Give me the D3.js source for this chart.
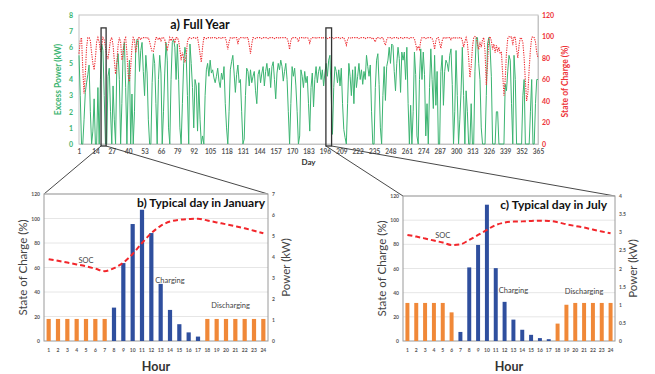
<!DOCTYPE html>
<html>
<head>
<meta charset="utf-8">
<script src="https://cdn.jsdelivr.net/npm/d3@7"></script>
<style>
  body { margin: 0; background: #fff; }
  svg { display: block; }
  text { font-family: Lato, "Liberation Sans", sans-serif; }
</style>
</head>
<body>
<div id="chart"></div>
<script>
// ---- data ----
// a) full year, one value per day (rows of 13 days, starting at day 1)
const excessPower = [
  5.5, 3.0, 0, 0, 1.5, 3.2, 3.8, 4.3, 4.9, 2.0, 0, 0.8, 2.8,
  0, 0, 3.5, 0, 4.0, 6.2, 5.8, 3.0, 0, 0, 4.2, 4.7, 2.0,
  0, 3.6, 1.5, 0, 5.0, 5.6, 4.0, 0, 2.5, 5.8, 6.3, 3.5, 0,
  3.6, 5.2, 0, 3.1, 0, 2.0, 5.9, 6.5, 6.4, 4.5, 5.8, 6.3, 4.5,
  3.0, 5.5, 4.4, 1.5, 0, 0, 3.8, 5.6, 5.0, 2.5, 0, 4.0, 5.5,
  4.4, 0, 2.0, 4.4, 6.3, 5.2, 1.0, 0, 4.0, 6.3, 6.5, 6.0, 4.0,
  6.2, 4.0, 1.0, 0, 2.5, 5.0, 6.0, 5.5, 3.0, 0, 6.2, 5.0, 3.5,
  1.0, 4.0, 3.6, 0.8, 3.8, 1.5, 0, 0.5, 0, 3.0, 4.6, 5.0, 4.2,
  5.2, 4.4, 4.6, 4.1, 3.8, 4.2, 4.7, 3.9, 3.5, 4.4, 4.0, 4.8, 2.5,
  1.0, 0, 2.0, 4.6, 5.1, 5.5, 4.4, 3.2, 4.3, 4.9, 3.8, 4.0, 2.0,
  0, 0.3, 3.0, 4.7, 4.5, 3.6, 4.6, 3.8, 4.2, 4.5, 3.3, 2.5, 4.3,
  4.6, 3.8, 4.4, 4.8, 3.6, 4.5, 5.0, 4.2, 4.7, 3.5, 4.8, 5.1, 4.0,
  2.8, 4.4, 5.0, 4.6, 5.2, 4.8, 3.9, 4.5, 5.0, 4.0, 2.0, 0, 2.5,
  4.8, 4.2, 4.7, 3.6, 2.0, 0, 0.5, 4.6, 4.2, 3.5, 4.5, 3.8, 4.2,
  2.5, 0.8, 3.5, 4.4, 2.3, 4.0, 4.8, 3.8, 4.5, 4.8, 4.0, 4.6, 3.6,
  4.4, 5.0, 4.2, 5.2, 5.5, 3.0, 0.6, 3.5, 4.8, 4.5, 3.8, 4.6, 3.6,
  4.7, 2.5, 0.9, 0.4, 0, 2.5, 5.0, 4.2, 3.0, 4.6, 2.5, 4.8, 3.5,
  4.2, 5.0, 4.0, 4.6, 3.7, 4.5, 4.0, 5.5, 4.8, 4.2, 4.9, 2.0, 0,
  0, 3.5, 5.2, 5.6, 3.7, 1.0, 0, 3.0, 4.8, 2.7, 4.8, 5.2, 6.0,
  5.0, 6.2, 6.1, 4.5, 3.3, 5.0, 6.0, 5.3, 3.2, 5.7, 5.2, 5.7, 4.0,
  6.0, 2.5, 0, 2.4, 0, 2.0, 5.7, 4.3, 0.5, 0, 4.0, 5.9, 4.0,
  5.7, 4.3, 0.5, 2.5, 0, 3.5, 5.9, 4.0, 2.2, 5.5, 2.4, 4.5, 0,
  0, 4.5, 5.5, 2.4, 4.5, 5.2, 5.0, 4.5, 5.5, 5.9, 3.7, 0, 2.0,
  5.8, 3.0, 0, 1.5, 3.3, 6.0, 3.0, 0, 3.3, 2.0, 0, 0, 2.5,
  0, 0, 4.5, 6.6, 6.6, 5.0, 4.0, 1.0, 0, 0, 0, 3.0, 6.2,
  6.6, 6.0, 4.2, 0, 0, 0, 2.0, 2.0, 0, 0, 0, 0, 0,
  3.7, 3.3, 4.5, 5.5, 5.2, 2.5, 0, 5.5, 4.0, 0, 0, 0, 0,
  0, 3.0, 4.0, 0, 0, 0, 0, 2.0, 4.0, 0, 0, 2.5, 4.0,
  4.0
];
const socYear = [
  84, 96, 99, 70, 47, 65, 90, 99, 99, 96, 85, 75, 69,
  80, 95, 99, 95, 86, 92, 99, 97, 90, 82, 79, 88, 97,
  99, 92, 78, 65, 75, 92, 99, 95, 78, 84, 97, 99, 85,
  64, 58, 72, 90, 99, 97, 85, 92, 99, 99, 97, 99, 99,
  99, 99, 98, 99, 95, 90, 86, 86, 92, 99, 99, 97, 99,
  96, 99, 99, 97, 92, 88, 93, 99, 96, 99, 98, 94, 99,
  99, 96, 88, 78, 85, 80, 76, 82, 95, 99, 99, 98, 99,
  99, 99, 98, 99, 92, 84, 76, 90, 99, 99, 98, 99, 99,
  99, 98, 99, 99, 99, 98, 99, 99, 99, 98, 99, 99, 99,
  95, 88, 95, 99, 99, 98, 99, 99, 99, 93, 98, 99, 99,
  99, 98, 99, 99, 99, 92, 84, 93, 99, 99, 98, 99, 99,
  99, 99, 98, 99, 99, 99, 99, 98, 99, 99, 99, 99, 98,
  99, 99, 99, 98, 99, 99, 99, 99, 99, 98, 95, 88, 96,
  99, 99, 99, 99, 98, 95, 99, 99, 99, 99, 98, 99, 99,
  98, 94, 98, 99, 99, 99, 98, 99, 99, 99, 99, 98, 99,
  99, 99, 98, 99, 99, 99, 99, 98, 99, 99, 99, 99, 98,
  99, 99, 99, 96, 92, 97, 99, 99, 98, 99, 99, 99, 99,
  99, 98, 99, 99, 99, 99, 98, 99, 99, 99, 99, 98, 99,
  97, 95, 99, 99, 99, 98, 99, 99, 95, 92, 97, 99, 99,
  99, 98, 99, 99, 99, 99, 98, 99, 99, 99, 98, 99, 99,
  99, 99, 98, 99, 99, 99, 98, 93, 88, 91, 88, 96, 99,
  99, 99, 98, 99, 99, 99, 99, 98, 95, 88, 96, 99, 99,
  94, 89, 96, 99, 99, 98, 99, 99, 99, 97, 99, 99, 98,
  99, 99, 98, 99, 99, 96, 90, 95, 99, 94, 80, 62, 72,
  90, 99, 100, 99, 93, 88, 95, 90, 97, 99, 86, 55, 75,
  98, 100, 96, 88, 93, 85, 92, 86, 90, 84, 85, 65, 45,
  60, 85, 98, 100, 99, 100, 92, 100, 99, 88, 80, 92, 99,
  98, 94, 80, 58, 40, 48, 70, 88, 99, 100, 99, 95, 85,
  80
];
const days = d3.range(1, 366);
const dayTicks = [1, 14, 27, 40, 53, 66, 79, 92, 105, 118, 131, 144, 157, 170, 183, 196,
  209, 222, 235, 248, 261, 274, 287, 300, 313, 326, 339, 352, 365];
const powerTicks = [0, 1, 2, 3, 4, 5, 6, 7, 8];
const socTicks = [0, 20, 40, 60, 80, 100, 120];
// zoomed windows (days) shown below
const windowJan = [18.5, 22.5];
const windowJul = [196.8, 201.3];

// b) / c) typical days
const hours = d3.range(1, 25);
const janPower = [1.05, 1.05, 1.05, 1.05, 1.05, 1.05, 1.05, 1.59, 3.71, 5.57, 6.25, 5.14,
  2.72, 1.48, 0.80, 0.41, 0.21, 1.05, 1.05, 1.05, 1.05, 1.05, 1.05, 1.05];
const janMode = ["d", "d", "d", "d", "d", "d", "d", "c", "c", "c", "c", "c",
  "c", "c", "c", "c", "c", "d", "d", "d", "d", "d", "d", "d"];
const janSoc = [66.8, 65.5, 64, 62.5, 61, 59, 57, 59.5, 64, 71, 80, 88,
  94, 97.5, 99, 99.5, 99.8, 98.4, 96.8, 95.3, 93.7, 92, 90, 88];
const julPower = [1.05, 1.05, 1.05, 1.05, 1.05, 0.79, 0.25, 2.03, 2.65, 3.76, 2.01, 1.08,
  0.59, 0.31, 0.17, 0.08, 0.05, 0.48, 1.0, 1.05, 1.05, 1.05, 1.05, 1.05];
const julMode = ["d", "d", "d", "d", "d", "d", "c", "c", "c", "c", "c", "c",
  "c", "c", "c", "c", "c", "d", "d", "d", "d", "d", "d", "d"];
const julSoc = [87.8, 86.4, 84.8, 83.1, 81.5, 79.5, 80, 83.7, 87.8, 92, 96, 98,
  98.8, 99, 99.4, 99.6, 99.4, 98.3, 96.6, 95.2, 93.9, 92.2, 90.6, 89.2];
const janPowerTicks = [0, 1, 2, 3, 4, 5, 6, 7];
const julPowerTicks = [0, 0.5, 1, 1.5, 2, 2.5, 3, 3.5, 4];

// ---- drawing ----
const W = 655, H = 374;
const green = "#3bb471", red = "#ee3338", dark = "#333";

const svg = d3.select("#chart").append("svg")
  .attr("width", W)
  .attr("height", H);

// top chart
const a = { left: 79, right: 538, top: 15, bottom: 144 };
const x = d3.scaleLinear().domain([1, 365]).range([a.left, a.right]);
const yP = d3.scaleLinear().domain([0, 8]).range([a.bottom, a.top]);
const yS = d3.scaleLinear().domain([0, 120]).range([a.bottom, a.top]);

svg.append("rect")
  .attr("x", a.left).attr("y", a.top)
  .attr("width", a.right - a.left).attr("height", a.bottom - a.top)
  .attr("fill", "none").attr("stroke", "#c4c4c4");

// left axis (excess power)
const gl = svg.append("g")
  .attr("transform", `translate(${a.left},0)`)
  .call(d3.axisLeft(yP).tickValues(powerTicks).tickSize(0).tickPadding(6));
gl.select(".domain").remove();
gl.selectAll("text").attr("fill", green).attr("font-size", 7).attr("font-weight", "bold");

// right axis (SOC)
const gr = svg.append("g")
  .attr("transform", `translate(${a.right},0)`)
  .call(d3.axisRight(yS).tickValues(socTicks).tickSize(0).tickPadding(4));
gr.select(".domain").attr("stroke", "#c4c4c4");
gr.selectAll("text").attr("fill", red).attr("font-size", 7).attr("font-weight", "bold");

// day axis
const gx = svg.append("g")
  .attr("transform", `translate(0,${a.bottom})`)
  .call(d3.axisBottom(x).tickValues(dayTicks).tickFormat(d3.format("d")).tickSize(0).tickPadding(5));
gx.select(".domain").attr("stroke", "#c4c4c4");
gx.selectAll("text").attr("fill", "#555").attr("font-size", 6.5).attr("font-weight", "bold");

svg.append("text")
  .attr("x", (a.left + a.right) / 2).attr("y", 165)
  .attr("text-anchor", "middle")
  .attr("font-size", 8).attr("font-weight", "bold").attr("fill", dark)
  .text("Day");

svg.append("text")
  .attr("transform", `translate(61,${(a.top + a.bottom) / 2}) rotate(-90)`)
  .attr("text-anchor", "middle")
  .attr("font-size", 8.5).attr("font-weight", "bold").attr("fill", green)
  .text("Excess Power (kW)");

svg.append("text")
  .attr("transform", `translate(568,${(a.top + a.bottom) / 2 + 2}) rotate(-90)`)
  .attr("text-anchor", "middle")
  .attr("font-size", 8.5).attr("font-weight", "bold").attr("fill", red)
  .text("State of Charge (%)");

svg.append("text")
  .attr("x", 200).attr("y", 29)
  .attr("text-anchor", "middle")
  .attr("font-size", 12.5).attr("font-weight", "bold").attr("fill", "#111")
  .text("a) Full Year");

// green excess power line
svg.append("path")
  .datum(excessPower)
  .attr("fill", "none")
  .attr("stroke", green)
  .attr("stroke-width", 1)
  .attr("stroke-linejoin", "round")
  .attr("d", d3.line().x((d, i) => x(days[i])).y(d => yP(d)));

// red dotted SOC line
svg.append("path")
  .datum(socYear)
  .attr("fill", "none")
  .attr("stroke", red)
  .attr("stroke-width", 1.1)
  .attr("stroke-dasharray", "1.3,1.1")
  .attr("d", d3.line().x((d, i) => x(days[i])).y(d => yS(d)));

// ---- typical day panels ----
const panels = [
  { left: 44, right: 268, top: 194, bottom: 341, pMax: 7, pTicks: janPowerTicks,
    power: janPower, mode: janMode, soc: janSoc, win: windowJan,
    title: "b) Typical day in January", titleX: 265,
    notes: [["SOC", 5, 64], ["Charging", 14, 47], ["Discharging", 20.5, 27]] },
  { left: 403, right: 615, top: 196, bottom: 341, pMax: 4, pTicks: julPowerTicks,
    power: julPower, mode: julMode, soc: julSoc, win: windowJul,
    title: "c) Typical day in July", titleX: 607,
    notes: [["SOC", 5, 85], ["Charging", 13, 40], ["Discharging", 21, 39]] }
];

panels.forEach(p => {
  const xb = d3.scaleBand().domain(hours).range([p.left, p.right])
    .paddingInner(0.55).paddingOuter(0.275);
  const ys = d3.scaleLinear().domain([0, 120]).range([p.bottom, p.top]);
  const yp = d3.scaleLinear().domain([0, p.pMax]).range([p.bottom, p.top]);
  const cx = h => xb(h) + xb.bandwidth() / 2;

  // highlighted window and connector lines
  svg.append("rect")
    .attr("x", x(p.win[0])).attr("y", yP(7.2))
    .attr("width", x(p.win[1]) - x(p.win[0])).attr("height", yP(0) - yP(7.2) + 2)
    .attr("fill", "none").attr("stroke", dark).attr("stroke-width", 1.3);
  svg.append("line")
    .attr("x1", x(p.win[0])).attr("y1", a.bottom + 2)
    .attr("x2", p.left).attr("y2", p.top)
    .attr("stroke", dark).attr("stroke-width", 0.9);
  svg.append("line")
    .attr("x1", x(p.win[1])).attr("y1", a.bottom + 2)
    .attr("x2", p.right).attr("y2", p.top)
    .attr("stroke", dark).attr("stroke-width", 0.9);

  // gridlines
  svg.append("g")
    .selectAll("line")
    .data(socTicks.slice(1))
    .join("line")
    .attr("x1", p.left).attr("x2", p.right)
    .attr("y1", d => ys(d)).attr("y2", d => ys(d))
    .attr("stroke", "#e6e6e6");

  svg.append("rect")
    .attr("x", p.left).attr("y", p.top)
    .attr("width", p.right - p.left).attr("height", p.bottom - p.top)
    .attr("fill", "none").attr("stroke", "#9a9a9a").attr("stroke-width", 1);

  // bars
  svg.append("g")
    .selectAll("rect")
    .data(p.power)
    .join("rect")
    .attr("x", (d, i) => xb(hours[i]))
    .attr("y", d => yp(d))
    .attr("width", xb.bandwidth())
    .attr("height", d => p.bottom - yp(d))
    .attr("fill", (d, i) => p.mode[i] === "c" ? "#2f4f9e" : "#f08838");

  // SOC dashed curve
  svg.append("path")
    .datum(p.soc)
    .attr("fill", "none")
    .attr("stroke", "#f2262b")
    .attr("stroke-width", 2)
    .attr("stroke-dasharray", "5,3")
    .attr("d", d3.line().x((d, i) => cx(hours[i])).y(d => ys(d)).curve(d3.curveMonotoneX));

  // axes
  const al = svg.append("g")
    .attr("transform", `translate(${p.left},0)`)
    .call(d3.axisLeft(ys).tickValues(socTicks).tickSize(0).tickPadding(4));
  al.select(".domain").remove();
  al.selectAll("text").attr("font-size", 5).attr("fill", "#555").attr("font-weight", "bold");

  const ar = svg.append("g")
    .attr("transform", `translate(${p.right},0)`)
    .call(d3.axisRight(yp).tickValues(p.pTicks).tickFormat(String).tickSize(0).tickPadding(4));
  ar.select(".domain").remove();
  ar.selectAll("text").attr("font-size", 5).attr("fill", "#555").attr("font-weight", "bold");

  const ab = svg.append("g")
    .attr("transform", `translate(0,${p.bottom})`)
    .call(d3.axisBottom(xb).tickSize(0).tickPadding(7));
  ab.select(".domain").remove();
  ab.selectAll("text").attr("font-size", 5).attr("fill", "#555").attr("font-weight", "bold");

  svg.append("text")
    .attr("x", (p.left + p.right) / 2).attr("y", 371)
    .attr("text-anchor", "middle")
    .attr("font-size", 12.5).attr("font-weight", "bold").attr("fill", dark)
    .text("Hour");

  svg.append("text")
    .attr("transform", `translate(${p.left - 17},${(p.top + p.bottom) / 2}) rotate(-90)`)
    .attr("text-anchor", "middle")
    .attr("font-size", 11.5).attr("fill", "#444")
    .text("State of Charge (%)");

  svg.append("text")
    .attr("transform", `translate(${p.right + 22},${(p.top + p.bottom) / 2}) rotate(-90)`)
    .attr("text-anchor", "middle")
    .attr("font-size", 11.5).attr("fill", "#444")
    .text("Power (kW)");

  svg.append("text")
    .attr("x", p.titleX).attr("y", p.top + 13)
    .attr("text-anchor", "end")
    .attr("font-size", 12).attr("font-weight", "bold").attr("fill", "#111")
    .text(p.title);

  p.notes.forEach(([label, h, v]) => {
    svg.append("text")
      .attr("x", xb(h) !== undefined ? cx(h) : xb(Math.floor(h)) + xb.step() / 2 + xb.bandwidth() / 2)
      .attr("y", ys(v))
      .attr("text-anchor", "middle")
      .attr("font-size", 7.5).attr("fill", "#444")
      .text(label);
  });
});
</script>
</body>
</html>
